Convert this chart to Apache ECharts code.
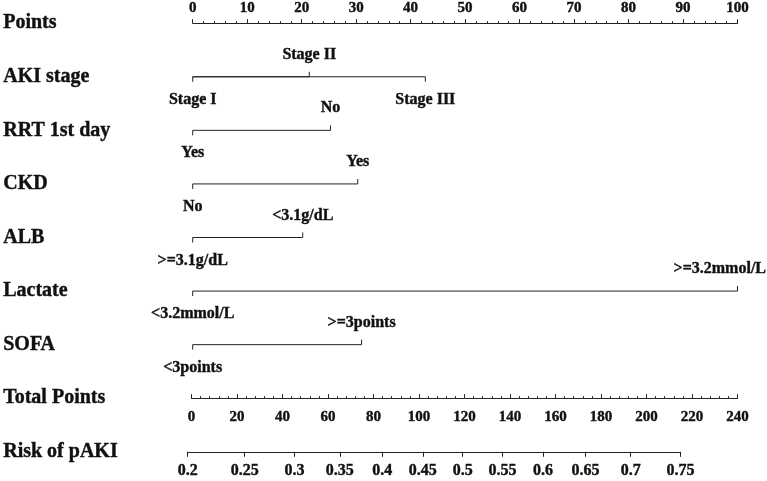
<!DOCTYPE html>
<html>
<head>
<meta charset="utf-8">
<script src="https://cdn.jsdelivr.net/npm/echarts@6/dist/echarts.min.js"></script>
<style>
  html, body { margin: 0; padding: 0; background: #fff; }
  #main { width: 767px; height: 481px; }
</style>
</head>
<body>
<div id="main"></div>
<script>
// rows of the nomogram, top to bottom
var rowNames = ['Points', 'AKI stage', 'RRT 1st day', 'CKD', 'ALB', 'Lactate', 'SOFA', 'Total Points', 'Risk of pAKI'];

// predictor levels and their points
var akiLevels = ['Stage I', 'Stage II', 'Stage III'];
var akiPoints = [0, 21.4, 42.7];
var rrtLevels = ['Yes', 'No'];
var rrtPoints = [0, 25.3];
var ckdLevels = ['No', 'Yes'];
var ckdPoints = [0, 30.3];
var albLevels = ['>=3.1g/dL', '<3.1g/dL'];
var albPoints = [0, 20.2];
var lactateLevels = ['<3.2mmol/L', '>=3.2mmol/L'];
var lactatePoints = [0, 100];
var sofaLevels = ['<3points', '>=3points'];
var sofaPoints = [0, 31.0];

// risk scale: logit(p) = b0 + b1 * totalPoints
var riskTicks = [0.2, 0.25, 0.3, 0.35, 0.4, 0.45, 0.5, 0.55, 0.6, 0.65, 0.7, 0.75];
var b0 = -1.367;
var b1 = 0.01147;

var FONT = '"Liberation Serif", "Times New Roman", serif';
var INK = '#111';
var LINE = '#222';

var predictors = [
  { row: 1, levels: akiLevels, pts: akiPoints },
  { row: 2, levels: rrtLevels, pts: rrtPoints },
  { row: 3, levels: ckdLevels, pts: ckdPoints },
  { row: 4, levels: albLevels, pts: albPoints },
  { row: 5, levels: lactateLevels, pts: lactatePoints },
  { row: 6, levels: sofaLevels, pts: sofaPoints }
];

var items = [];
predictors.forEach(function (p) {
  p.levels.forEach(function (lv, k) {
    items.push({ value: [p.pts[k], p.row, k], name: lv });
  });
});

function toTP(prob) { return (Math.log(prob / (1 - prob)) - b0) / b1; }
function toRisk(tp) { return 1 / (1 + Math.exp(-(b0 + b1 * tp))); }

var gridLeft = 191.5, gridWidth = 546, top0 = 23, gap = 53.6;
var pxPerTP = gridWidth / 240;
var tpLo = toTP(riskTicks[0]), tpHi = toTP(riskTicks[riskTicks.length - 1]);

var myChart = echarts.init(document.getElementById('main'));

function renderLevel(params, api) {
  var pt = api.value(0), row = api.value(1), k = api.value(2);
  var start = api.coord([0, row]);
  var end = api.coord([pt, row]);
  var up = k % 2 === 1;
  var y = start[1];
  var tx = end[0], align = 'center';
  if (tx > api.getWidth() - 50) { tx = api.getWidth() - 1; align = 'right'; }
  return {
    type: 'group',
    children: [
      { type: 'line', shape: { x1: start[0], y1: y, x2: end[0], y2: y }, style: { stroke: LINE, lineWidth: 1 } },
      { type: 'line', shape: { x1: end[0], y1: y, x2: end[0], y2: up ? y - 5 : y + 5 }, style: { stroke: LINE, lineWidth: 1 } },
      { type: 'text', style: {
          text: items[params.dataIndex].name, x: tx, y: up ? y - 22 : y + 23,
          align: align, verticalAlign: 'middle', fill: INK,
          stroke: INK, lineWidth: 0.4,
          font: 'bold 16px ' + FONT } }
    ]
  };
}

function tickLabel(size, margin) {
  return {
    margin: margin, color: INK, fontFamily: FONT, fontWeight: 'bold', fontSize: size,
    textBorderColor: INK, textBorderWidth: 0.4
  };
}

var axisLabelTP = tickLabel(15, 11);
var axisLabelRisk = tickLabel(16, 11);
axisLabelRisk.customValues = riskTicks.map(toTP);
axisLabelRisk.formatter = function (v) { return String(+toRisk(v).toFixed(2)); };

option = {
  animation: false,
  backgroundColor: '#fff',
  grid: [
    { left: gridLeft, width: gridWidth, top: top0, height: gap * 8 },
    { left: gridLeft, width: gridWidth, top: top0 + gap * 7 - 1, height: 1 },
    { left: gridLeft + pxPerTP * tpLo, width: pxPerTP * (tpHi - tpLo), top: top0 + gap * 8 - 1, height: 1 }
  ],
  xAxis: [
    {
      gridIndex: 0, type: 'value', position: 'top', min: 0, max: 100, interval: 10,
      axisLine: { show: true, onZero: false, lineStyle: { color: LINE } },
      axisTick: { show: true, length: 4, lineStyle: { color: LINE } },
      minorTick: { show: true, splitNumber: 5, length: 2, lineStyle: { color: LINE } },
      axisLabel: tickLabel(15, 8),
      splitLine: { show: false }
    },
    {
      gridIndex: 1, type: 'value', position: 'bottom', min: 0, max: 240, interval: 20,
      axisLine: { show: true, onZero: false, lineStyle: { color: LINE } },
      axisTick: { show: true, inside: true, length: 4, lineStyle: { color: LINE } },
      minorTick: { show: true, splitNumber: 5, length: 2, lineStyle: { color: LINE } },
      axisLabel: axisLabelTP,
      splitLine: { show: false }
    },
    {
      gridIndex: 2, type: 'value', position: 'bottom', min: tpLo, max: tpHi,
      axisLine: { show: true, onZero: false, lineStyle: { color: LINE } },
      axisTick: { show: true, length: 5, lineStyle: { color: LINE }, customValues: riskTicks.map(toTP) },
      axisLabel: axisLabelRisk,
      splitLine: { show: false }
    }
  ],
  yAxis: [
    {
      gridIndex: 0, type: 'category', data: rowNames, inverse: true, boundaryGap: false,
      axisLine: { show: false }, axisTick: { show: false }, splitLine: { show: false },
      axisLabel: {
        align: 'left', margin: gridLeft - 2, color: INK, fontFamily: FONT, fontWeight: 'bold', fontSize: 20,
        textBorderColor: INK, textBorderWidth: 0.4, padding: [5, 0, 0, 0]
      }
    },
    { gridIndex: 1, type: 'value', show: false },
    { gridIndex: 2, type: 'value', show: false }
  ],
  series: [
    {
      type: 'custom',
      xAxisIndex: 0, yAxisIndex: 0,
      renderItem: renderLevel,
      data: items
    }
  ]
};

myChart.setOption(option);
</script>
</body>
</html>
